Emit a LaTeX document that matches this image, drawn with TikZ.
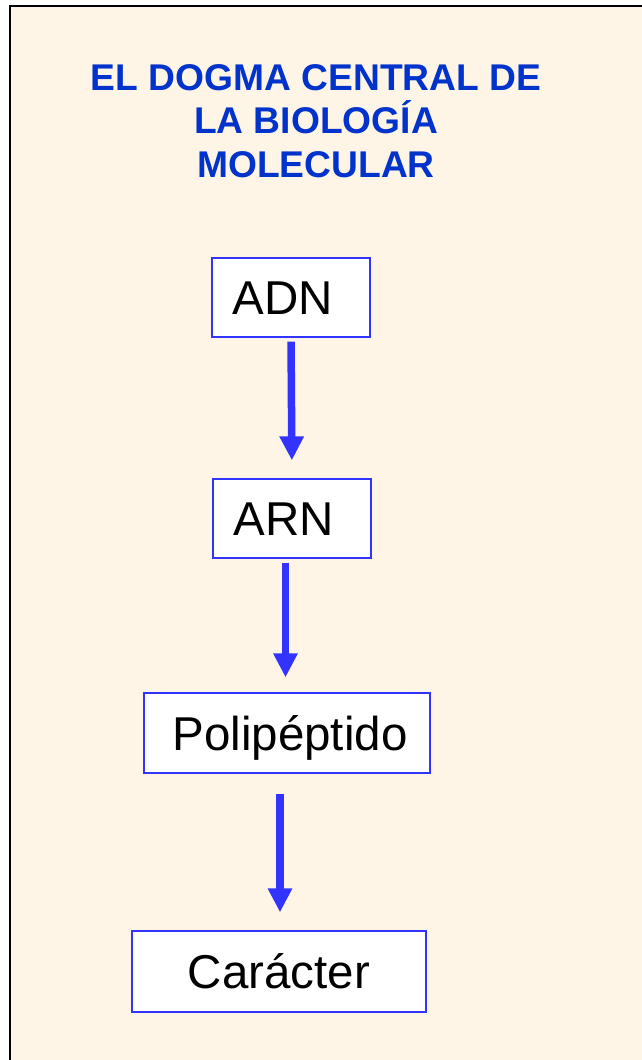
\documentclass[tikz,border=0pt]{standalone}
\usepackage{fontspec}
\setmainfont{Liberation Sans}
\usetikzlibrary{arrows.meta}
\definecolor{cream}{HTML}{FFF5E6}
\definecolor{boxblue}{HTML}{3333FF}
\definecolor{titleblue}{HTML}{0033CC}
\tikzset{
    stage/.style={draw=boxblue, line width=1.3pt, fill=white, inner sep=0pt,
        minimum height=79pt, text height=34pt, text depth=0pt,
        font=\fontsize{47.5}{50}\selectfont},
    flow/.style={boxblue, line width=7.5pt, -{Triangle[width=23pt,length=24pt]}}
}
\begin{document}
\begin{tikzpicture}[x=1pt,y=-1pt]
    \useasboundingbox (0,0) rectangle (642,1060);
    \clip (0,0) rectangle (642,1060);
    \fill[white] (0,0) rectangle (642,1060);
    \filldraw[fill=cream, draw=black, line width=2pt] (10,6) rectangle (700,1100);

    \node[titleblue, align=center, inner sep=0pt,
        font=\fontsize{37.2}{43.5}\selectfont\bfseries] (title) at (316,121)
        {EL DOGMA CENTRAL DE\\LA BIOLOGÍA\\MOLECULAR};

    \node[stage, minimum width=158pt] (adn) at (291,297.5) {ADN\hspace{16pt}\mbox{}};
    \node[stage, minimum width=158pt] (arn) at (292,518.5) {ARN\hspace{16pt}\mbox{}};
    \node[stage, minimum width=286pt, minimum height=80pt] (poli) at (287,733) {\hspace{6pt}Polipéptido};
    \node[stage, minimum width=294pt, minimum height=81pt] (car) at (279,971.5) {Carácter};

    \draw[flow, shorten <=4pt, shorten >=18pt] (adn.south) -- (arn.north);
    \draw[flow, shorten <=4pt, shorten >=15pt]
        ([xshift=-6.5pt]arn.south) -- ([xshift=-6.5pt]arn.south |- poli.north);
    \draw[flow, shorten <=20pt, shorten >=18pt]
        ([xshift=-7pt]poli.south) -- ([xshift=-7pt]poli.south |- car.north);
\end{tikzpicture}
\end{document}
